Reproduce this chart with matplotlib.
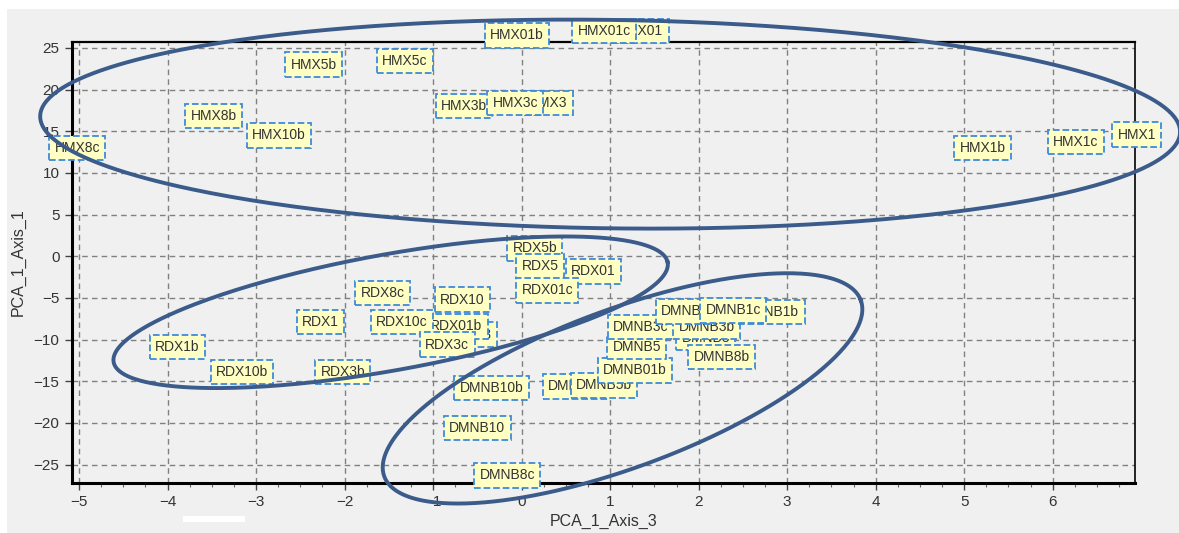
import numpy as np
import matplotlib
matplotlib.use('Agg')
import matplotlib.pyplot as plt
from matplotlib.patches import Rectangle

plt.rcParams['font.family'] = ['Liberation Sans', 'DejaVu Sans']

# sample scores (PCA axis 3, PCA axis 1), in drawing order
hmx_names = ['HMX01', 'HMX01c', 'HMX01b', 'HMX5b', 'HMX5c', 'HMX8b', 'HMX10b',
             'HMX8c', 'HMX3', 'HMX3b', 'HMX3c', 'HMX1b', 'HMX1c', 'HMX1']
hmx_x = [1.34, 0.93, -0.05, -2.35, -1.32, -3.48, -2.74,
         -5.02, 0.30, -0.65, -0.07, 5.21, 6.26, 6.95]
hmx_y = [27.0, 27.0, 26.5, 23.0, 23.4, 16.8, 14.5,
         13.0, 18.4, 18.0, 18.4, 13.0, 13.7, 14.6]

rdx_names = ['RDX5b', 'RDX01', 'RDX5', 'RDX01c', 'RDX10', 'RDX8c', 'RDX1',
             'RDX3', 'RDX01b', 'RDX10c', 'RDX3c', 'RDX1b', 'RDX10b', 'RDX3b']
rdx_x = [0.15, 0.81, 0.21, 0.29, -0.67, -1.57, -2.27,
         -0.55, -0.74, -1.35, -0.84, -3.89, -3.16, -2.02]
rdx_y = [0.96, -1.8, -1.2, -4.1, -5.2, -4.4, -7.9,
         -9.4, -8.4, -7.9, -10.6, -10.9, -13.9, -13.9]

dmnb_names = ['DMNB10b', 'DMNB5c', 'DMNB5b', 'DMNB01b', 'DMNB5', 'DMNB3',
              'DMNB3c', 'DMNB3b', 'DMNB8b', 'DMNB1', 'DMNB1b', 'DMNB1c',
              'DMNB10', 'DMNB8c']
dmnb_x = [-0.34, 0.61, 0.93, 1.28, 1.30, 2.08,
          1.35, 2.09, 2.26, 1.85, 2.82, 2.39,
          -0.50, -0.16]
dmnb_y = [-15.8, -15.6, -15.5, -13.7, -10.9, -9.8,
          -8.5, -8.5, -12.1, -6.6, -6.7, -6.5,
          -20.6, -26.3]

# hand-drawn group ellipses: centre x, centre y, semi-axis (x units), semi-axis (y units), tilt on screen (deg)
ell_cx = [1.0, -1.48, 1.14]
ell_cy = [15.85, -6.72, -15.85]
ell_a = [6.44, 3.18, 2.87]
ell_b = [12.5, 6.96, 9.48]
ell_ang = [-0.8, 10.2, 20.3]

xticks = [-5, -4, -3, -2, -1, 0, 1, 2, 3, 4, 5, 6]
yticks = [-25, -20, -15, -10, -5, 0, 5, 10, 15, 20, 25]

fig = plt.figure(figsize=(11.79, 5.33), dpi=100)
fig.patch.set_facecolor('white')
fig.patches.append(Rectangle((7 / 1179, 0), 1, 1 - 9 / 533, transform=fig.transFigure,
                             facecolor='#f0f0f0', edgecolor='none', zorder=-10))
fig.patches.append(Rectangle((183 / 1179, 1 - 522 / 533), 62 / 1179, 6 / 533,
                             transform=fig.transFigure, facecolor='white',
                             edgecolor='none', zorder=5))

ax = fig.add_axes([72 / 1179, 1 - 483 / 533, (1135 - 72) / 1179, (483 - 42) / 533])
ax.set_facecolor('#f0f0f0')
ax.set_xlim(-5.08, 6.93)
ax.set_ylim(-27.2, 25.7)

ax.set_xticks(xticks)
ax.set_xticks(np.arange(-5, 7.0, 0.25), minor=True)
ax.set_yticks(yticks)
ax.tick_params(axis='both', which='major', direction='out', length=5, width=1,
               color='#444444', labelsize=11, labelcolor='#333333', pad=4)
ax.tick_params(axis='x', which='minor', direction='out', length=3, width=0.8,
               color='#666666')
ax.grid(True, which='major', color='#808080', linestyle=(0, (4, 3)), linewidth=1)
ax.set_axisbelow(True)

for side, lw in [('left', 2.2), ('bottom', 2.2), ('top', 1.6), ('right', 1.2)]:
    ax.spines[side].set_color('black')
    ax.spines[side].set_linewidth(lw)

ax.set_xlabel('PCA_1_Axis_3', fontsize=11.5, color='#333333', labelpad=3)
ax.set_ylabel('PCA_1_Axis_1', fontsize=11.5, color='#333333', labelpad=6)

box = dict(boxstyle='square,pad=0.38', facecolor='#ffffc4', edgecolor='#3d8bd9',
           linestyle='--', linewidth=1.3)
z = 3
for names, xs, ys in [(hmx_names, hmx_x, hmx_y), (rdx_names, rdx_x, rdx_y),
                      (dmnb_names, dmnb_x, dmnb_y)]:
    for n, x, y in zip(names, xs, ys):
        ax.text(x, y, n, ha='center', va='center', fontsize=10, color='#333333',
                bbox=box, zorder=z, clip_on=False)
        z += 0.01

# ellipses drawn in screen space so the tilt matches the picture
fig.canvas.draw()
p0 = ax.transData.transform((0, 0))
p1 = ax.transData.transform((1, 1))
sx, sy = p1 - p0
t = np.linspace(0, 2 * np.pi, 400)
for cx, cy, a, b, ang in zip(ell_cx, ell_cy, ell_a, ell_b, ell_ang):
    c = ax.transData.transform((cx, cy))
    th = np.radians(ang)
    ex = a * sx * np.cos(t)
    ey = b * sy * np.sin(t)
    px = c[0] + ex * np.cos(th) - ey * np.sin(th)
    py = c[1] + ex * np.sin(th) + ey * np.cos(th)
    d = ax.transData.inverted().transform(np.column_stack([px, py]))
    ax.plot(d[:, 0], d[:, 1], color='#3b5b8a', linewidth=2.8, clip_on=False, zorder=10)

fig.savefig('out.png', dpi=100)
